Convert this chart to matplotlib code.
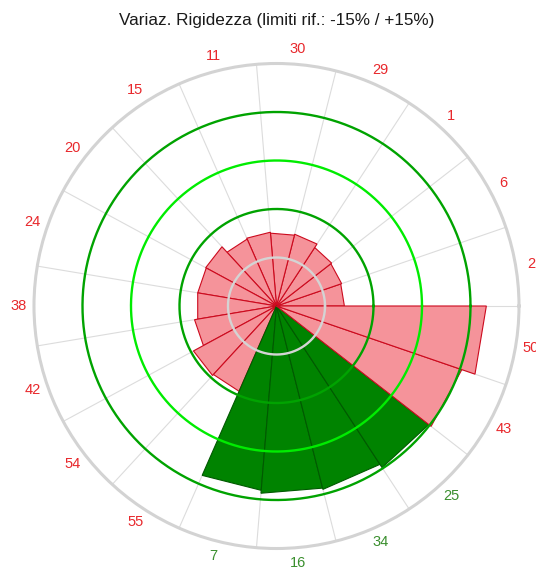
import matplotlib.pyplot as plt
import numpy as np

plt.rcParams['font.family'] = ['Liberation Sans', 'DejaVu Sans']

# settori in senso antiorario a partire da est
labels = ['2', '6', '1', '29', '30', '11', '15', '20', '24', '38',
          '42', '54', '55', '7', '16', '34', '25', '43', '50']
# variazione di rigidezza in %
variaz = [-24.0, -23.7, -23.4, -22.1, -22.4, -22.1, -22.4, -20.1, -20.3, -20.3,
          -19.3, -15.8, -16.2, 12.2, 13.1, 13.5, 14.7, 15.6, 19.9]

lim_inf, lim_sup = -15, 15
r_min, r_max = -45, 30
cerchi = [-30, -15, 0, 15]
colori_cerchi = ['#d4d4d4', '#00a300', '#00ec00', '#00a300']

n = len(labels)
step = 2 * np.pi / n
bordi = np.arange(n) * step
centri = bordi + step / 2

fig = plt.figure(figsize=(5.36, 5.70), dpi=100)
ax = fig.add_axes([0.0634, 0.0377, 0.9049, 0.8509], projection='polar')

for t0, v in zip(bordi, variaz):
    fuori = v < lim_inf or v > lim_sup
    fc = '#f5939a' if fuori else '#008300'
    ec = '#cc0a1e' if fuori else '#005a00'
    ax.fill([t0, t0, t0 + step], [r_min, v, v], fc=fc, ec=ec, lw=0.8, zorder=2)

tt = np.linspace(0, 2 * np.pi, 500)
for lev, c in zip(cerchi, colori_cerchi):
    ax.plot(tt, np.full_like(tt, lev), color=c, lw=1.7, zorder=3)

ax.set_ylim(r_min, r_max)
ax.set_xticks(bordi)
ax.set_xticklabels([])
ax.set_yticks([])
ax.tick_params(length=0)
ax.xaxis.grid(True, color='#dcdcdc', lw=0.8)
ax.set_axisbelow(True)
ax.spines['polar'].set_color('#d3d3d3')
ax.spines['polar'].set_linewidth(2.2)

for t, lab, v in zip(centri, labels, variaz):
    col = '#e8282c' if (v < lim_inf or v > lim_sup) else '#3a8f2e'
    ax.text(t, 34.8, lab, ha='center', va='center', color=col, fontsize=10.5)

fig.text(0.5165, 1 - 20 / 570, 'Variaz. Rigidezza (limiti rif.: -15% / +15%)',
         ha='center', va='center', fontsize=12.3, color='#1a1a1a')

fig.savefig('out.png', dpi=100)
